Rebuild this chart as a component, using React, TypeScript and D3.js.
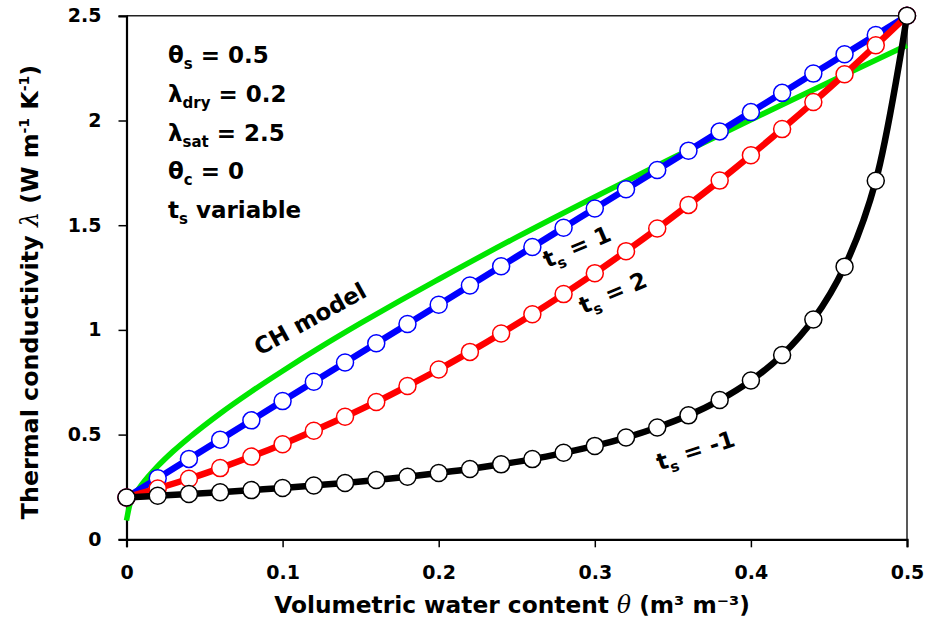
import React, { useRef, useEffect } from 'react';
import * as d3 from 'd3';

// water content at the markers (m3 m-3)
const thetaPts = [0, 0.02, 0.04, 0.06, 0.08, 0.1, 0.12, 0.14, 0.16, 0.18, 0.2, 0.22, 0.24,
  0.26, 0.28, 0.3, 0.32, 0.34, 0.36, 0.38, 0.4, 0.42, 0.44, 0.46, 0.48, 0.5];

// ts = 1
const lamTs1 = [0.2, 0.292, 0.384, 0.476, 0.568, 0.66, 0.752, 0.844, 0.936, 1.028, 1.12, 1.212,
  1.304, 1.396, 1.488, 1.58, 1.672, 1.764, 1.856, 1.948, 2.04, 2.132, 2.224, 2.316, 2.408, 2.5];

// ts = 2
const lamTs2 = [0.2, 0.243, 0.289, 0.340, 0.395, 0.454, 0.518, 0.585, 0.656, 0.732, 0.811, 0.895,
  0.983, 1.075, 1.171, 1.271, 1.376, 1.484, 1.597, 1.713, 1.834, 1.959, 2.088, 2.221, 2.359, 2.5];

// ts = -1
const lamTsM1 = [0.2, 0.208, 0.216, 0.225, 0.235, 0.245, 0.257, 0.269, 0.283, 0.299, 0.317, 0.336,
  0.358, 0.383, 0.413, 0.446, 0.486, 0.534, 0.592, 0.665, 0.758, 0.880, 1.050, 1.302, 1.712, 2.5];

// CH model (continuous line)
const chTheta = [0, 0.002, 0.005, 0.01, 0.02, 0.03, 0.04, 0.06, 0.08, 0.1, 0.125, 0.15, 0.175,
  0.2, 0.25, 0.3, 0.35, 0.4, 0.45, 0.5];
const chLam = [0.09, 0.162, 0.208, 0.263, 0.349, 0.421, 0.485, 0.601, 0.706, 0.804, 0.921, 1.032,
  1.139, 1.242, 1.443, 1.635, 1.822, 2.004, 2.183, 2.359];

const xTicks = [0, 0.1, 0.2, 0.3, 0.4, 0.5];
const yTicks = [0, 0.5, 1, 1.5, 2, 2.5];

const FONT = '"DejaVu Sans", sans-serif';

const App = () => {
  const svgRef = useRef(null);

  useEffect(() => {
    const svg = d3.select(svgRef.current);
    svg.selectAll('*').remove();

    const x = d3.scaleLinear().domain([0, 0.5]).range([126.5, 907]);
    const y = d3.scaleLinear().domain([0, 2.5]).range([539.3, 15.8]);

    // frame
    svg.append('line').attr('x1', x(0)).attr('x2', x(0.5)).attr('y1', y(2.5)).attr('y2', y(2.5))
      .attr('stroke', '#222').attr('stroke-width', 1.5);
    svg.append('line').attr('x1', x(0.5)).attr('x2', x(0.5)).attr('y1', y(2.5)).attr('y2', y(0))
      .attr('stroke', '#222').attr('stroke-width', 1.5);

    const xAxis = svg.append('g')
      .attr('transform', `translate(0, ${y(0)})`)
      .call(d3.axisBottom(x).tickValues(xTicks).tickSize(8).tickPadding(18)
        .tickFormat((d) => (d === 0 ? '0' : d3.format('.1f')(d))));
    const yAxis = svg.append('g')
      .attr('transform', `translate(${x(0)}, 0)`)
      .call(d3.axisLeft(y).tickValues(yTicks).tickSize(8).tickPadding(17)
        .tickFormat((d) => String(d)));

    [xAxis, yAxis].forEach((g) => {
      g.select('.domain').attr('stroke', '#000').attr('stroke-width', 2.2);
      g.selectAll('.tick line').attr('stroke', '#000').attr('stroke-width', 1.5);
      g.selectAll('.tick text').attr('fill', '#000').style('font-family', FONT)
        .style('font-weight', 'bold').style('font-size', '19px');
    });

    // CH model
    const chData = chTheta.map((t, i) => [t, chLam[i]]);
    svg.append('path')
      .datum(chData)
      .attr('fill', 'none')
      .attr('stroke', '#00e600')
      .attr('stroke-width', 5.5)
      .attr('d', d3.line().x((d) => x(d[0])).y((d) => y(d[1])).curve(d3.curveMonotoneX));

    const series = [
      { vals: lamTs1, color: '#0000ff' },
      { vals: lamTs2, color: '#ff0000' },
      { vals: lamTsM1, color: '#000000' },
    ];

    series.forEach((s) => {
      const pts = thetaPts.map((t, i) => [t, s.vals[i]]);
      svg.append('path')
        .datum(pts)
        .attr('fill', 'none')
        .attr('stroke', s.color)
        .attr('stroke-width', 6.5)
        .attr('d', d3.line().x((d) => x(d[0])).y((d) => y(d[1])).curve(d3.curveCatmullRom));
      svg.append('g')
        .selectAll('circle')
        .data(pts)
        .join('circle')
        .attr('cx', (d) => x(d[0]))
        .attr('cy', (d) => y(d[1]))
        .attr('r', 8.5)
        .attr('fill', '#fff')
        .attr('stroke', s.color)
        .attr('stroke-width', 1.5);
    });

    // parameter block
    const rows = [
      ['θ', 's', ' = 0.5'],
      ['λ', 'dry', ' = 0.2'],
      ['λ', 'sat', ' = 2.5'],
      ['θ', 'c', ' = 0'],
      ['t', 's', ' variable'],
    ];
    rows.forEach((r, i) => {
      const t = svg.append('text')
        .attr('x', 168)
        .attr('y', 63 + i * 38.8)
        .attr('fill', '#000')
        .style('font-family', FONT)
        .style('font-weight', 'bold')
        .style('font-size', '23px');
      t.append('tspan').text(r[0]);
      t.append('tspan').attr('dy', 6).style('font-size', '15px').text(r[1]);
      t.append('tspan').attr('dy', -6).text(r[2]);
    });

    // curve labels
    const label = (cx, cy, angle, parts) => {
      const t = svg.append('text')
        .attr('transform', `translate(${cx}, ${cy}) rotate(${angle})`)
        .attr('text-anchor', 'middle')
        .attr('fill', '#000')
        .style('font-family', FONT)
        .style('font-weight', 'bold')
        .style('font-size', '23px');
      parts.forEach((p) => {
        const sp = t.append('tspan').text(p.t);
        if (p.sub) sp.attr('dy', 6).style('font-size', '15px');
        if (p.back) sp.attr('dy', -6);
      });
    };
    label(314, 326, -29, [{ t: 'CH model' }]);
    label(580, 254, -23, [{ t: 't' }, { t: 's', sub: true }, { t: ' = 1', back: true }]);
    label(616, 300, -23, [{ t: 't' }, { t: 's', sub: true }, { t: ' = 2', back: true }]);
    label(698, 458, -18, [{ t: 't' }, { t: 's', sub: true }, { t: ' = -1', back: true }]);

    // axis titles
    const xt = svg.append('text')
      .attr('x', 512)
      .attr('y', 613)
      .attr('text-anchor', 'middle')
      .attr('fill', '#000')
      .style('font-family', FONT)
      .style('font-weight', 'bold')
      .style('font-size', '23.3px');
    xt.append('tspan').text('Volumetric water content ');
    xt.append('tspan').style('font-style', 'italic').style('font-family', '"DejaVu Serif", serif')
      .style('font-weight', 'normal').text('θ');
    xt.append('tspan').text(' (m³ m⁻³)');

    const yt = svg.append('text')
      .attr('transform', 'translate(38, 292) rotate(-90)')
      .attr('text-anchor', 'middle')
      .attr('fill', '#000')
      .style('font-family', FONT)
      .style('font-weight', 'bold')
      .style('font-size', '23.8px');
    yt.append('tspan').text('Thermal conductivity ');
    yt.append('tspan').style('font-style', 'italic').style('font-family', '"DejaVu Serif", serif')
      .style('font-weight', 'normal').text('λ');
    yt.append('tspan').text(' (W m');
    yt.append('tspan').attr('dy', -9).style('font-size', '14px').text('-1');
    yt.append('tspan').attr('dy', 9).text(' K');
    yt.append('tspan').attr('dy', -9).style('font-size', '14px').text('-1');
    yt.append('tspan').attr('dy', 9).text(')');
  }, []);

  return (
    <div style={{ position: 'absolute', left: 0, top: 0 }}>
      <svg ref={svgRef} width={927} height={627} style={{ display: 'block', background: '#fff' }}></svg>
    </div>
  );
};

export default App;
